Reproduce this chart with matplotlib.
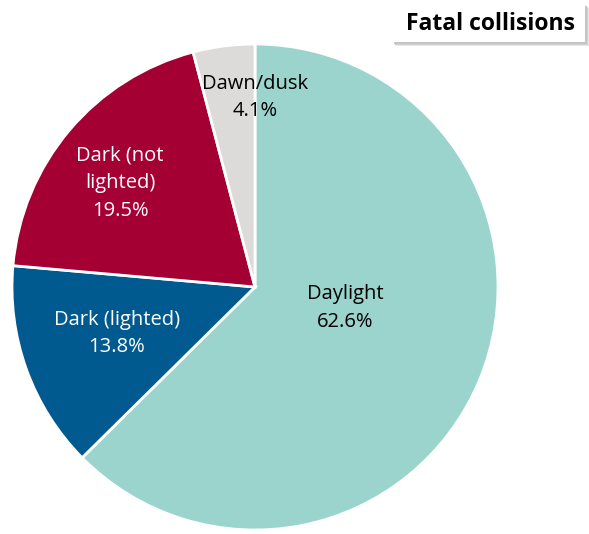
import matplotlib
matplotlib.use("Agg")
import matplotlib.pyplot as plt
import numpy as np
from matplotlib.patches import Rectangle

categories = ["Daylight", "Dark (lighted)", "Dark (not\nlighted)", "Dawn/dusk"]
values = [62.6, 13.8, 19.5, 4.1]
colors = ["#9AD4CC", "#005A8F", "#A50034", "#DCDBDA"]
title = "Fatal collisions"

# label placement (radius fraction, angle in degrees)
label_pos = [(0.38, -13), (0.60, -161.5), (0.70, 142.4), (0.78, 90)]

fig = plt.figure(figsize=(5.89, 5.34), dpi=100)
ax = fig.add_axes([0, 0, 1, 1])
R = 243.0
cx, cy = 255.0, 287.0
W, H = 589.0, 534.0

wedges, _ = ax.pie(values, colors=colors, startangle=90, counterclock=False,
                   radius=1.0, wedgeprops=dict(edgecolor="white", linewidth=2.0))
ax.set_xlim(-cx / R, (W - cx) / R)
ax.set_ylim(-(H - cy) / R, cy / R)
ax.set_aspect("auto")
ax.axis("off")

for cat, v, (r, a) in zip(categories, values, label_pos):
    th = np.deg2rad(a)
    ax.text(r * np.cos(th), r * np.sin(th), f"{cat}\n{v:.1f}%",
            ha="center", va="center", fontsize=14.5, family="Open Sans",
            color="black" if cat in ("Daylight", "Dawn/dusk") else "white",
            linespacing=1.5)

# title box with soft shadow
for off, col in [(4, "#e6e6e6"), (3, "#d2d2d2"), (2, "#c4c4c4")]:
    fig.patches.append(Rectangle(((392 + off) / W, 1 - (42 + off) / H), 193 / W, 38 / H,
                                 transform=fig.transFigure, facecolor=col,
                                 edgecolor="none", zorder=0.5))
fig.patches.append(Rectangle((392 / W, 1 - 42 / H), 193 / W, 38 / H, transform=fig.transFigure,
                             facecolor="white", edgecolor="none", zorder=0.6))
fig.text(490 / W, 1 - 24 / H, title, ha="center", va="center", fontsize=16.5,
         fontweight="bold", family="Open Sans")
fig.savefig("out.png", dpi=100)
